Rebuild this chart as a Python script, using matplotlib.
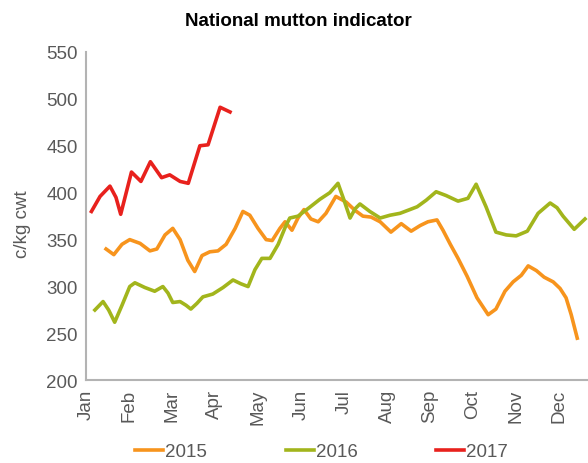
import matplotlib
matplotlib.use("Agg")
import matplotlib.pyplot as plt

plt.rcParams['font.family'] = ['Liberation Sans', 'DejaVu Sans']

months = ["Jan", "Feb", "Mar", "Apr", "May", "Jun", "Jul", "Aug", "Sep", "Oct", "Nov", "Dec"]

# x positions are fractional months (0 = start of Jan), weekly readings
x2015 = [0.47, 0.65, 0.84, 1.02, 1.26, 1.49, 1.65, 1.84, 2.02, 2.19, 2.37, 2.53, 2.70, 2.88,
         3.07, 3.26, 3.47, 3.65, 3.81, 4.00, 4.19, 4.33, 4.51, 4.63, 4.79, 4.93, 5.07, 5.23,
         5.40, 5.58, 5.81, 6.05, 6.26, 6.44, 6.63, 6.84, 7.09, 7.33, 7.56, 7.77, 7.95, 8.16,
         8.30, 8.47, 8.65, 8.86, 9.09, 9.35, 9.53, 9.74, 9.93, 10.12, 10.28, 10.47, 10.65,
         10.86, 11.02, 11.16, 11.28, 11.42]
y2015 = [340, 334, 345, 350, 346, 338, 340, 355, 362, 350, 328, 316, 333, 337,
         338, 345, 362, 380, 376, 362, 350, 349, 362, 369, 360, 373, 382, 372,
         369, 378, 396, 390, 381, 375, 374, 369, 358, 367, 359, 365, 369, 371,
         360, 345, 330, 311, 288, 270, 276, 295, 305, 312, 322, 317, 310,
         305, 298, 288, 270, 245]

x2016 = [0.21, 0.40, 0.53, 0.67, 0.84, 1.02, 1.14, 1.37, 1.60, 1.79, 1.91, 2.02, 2.19, 2.33,
         2.44, 2.58, 2.72, 2.95, 3.19, 3.42, 3.60, 3.77, 3.93, 4.09, 4.28, 4.47, 4.65, 4.74,
         4.93, 5.19, 5.44, 5.67, 5.86, 6.00, 6.14, 6.26, 6.37, 6.60, 6.84, 7.07, 7.30, 7.53,
         7.70, 7.91, 8.14, 8.37, 8.65, 8.88, 9.07, 9.30, 9.53, 9.77, 10.00, 10.26, 10.51,
         10.79, 10.95, 11.09, 11.35, 11.60]
y2016 = [275, 284, 275, 262, 280, 300, 304, 299, 295, 300, 293, 283, 284, 280,
         276, 282, 289, 292, 299, 307, 303, 300, 318, 330, 330, 345, 365, 373,
         375, 384, 393, 400, 410, 392, 373, 383, 388, 380, 373, 376, 378, 382,
         385, 392, 401, 397, 391, 394, 409, 385, 358, 355, 354, 359, 378,
         389, 384, 375, 361, 372]

x2017 = [0.13, 0.33, 0.56, 0.70, 0.81, 1.06, 1.28, 1.50, 1.76, 1.95, 2.19, 2.38, 2.65, 2.84,
         3.12, 3.35]
y2017 = [380, 396, 407, 395, 377, 422, 412, 433, 416, 419, 412, 410, 450, 451, 491, 486]

fig = plt.figure(figsize=(5.88, 4.64), dpi=100)
ax = fig.add_axes([0.146, 0.178, 0.854, 0.708])

ax.plot(x2015, y2015, color="#f7941d", lw=2.6, solid_joinstyle="round", label="2015")
ax.plot(x2016, y2016, color="#a2b51c", lw=2.6, solid_joinstyle="round", label="2016")
ax.plot(x2017, y2017, color="#e8211d", lw=2.6, solid_joinstyle="round", label="2017")

ax.set_xlim(0, 11.67)
ax.set_ylim(200, 550)
ax.set_yticks(range(200, 551, 50))
ax.set_xticks(range(12))
ax.set_xticklabels(months, rotation=90)
ax.tick_params(length=0, labelsize=13.5, labelcolor="#595959", pad=6)

for s in ["top", "right"]:
    ax.spines[s].set_visible(False)
for s in ["left", "bottom"]:
    ax.spines[s].set_color("#b3b3b3")
    ax.spines[s].set_linewidth(1.5)

ax.set_ylabel("c/kg cwt", fontsize=13.5, color="#595959")
ax.yaxis.set_label_coords(-0.11, 0.48)
fig.text(0.507, 0.953, "National mutton indicator", ha="center", va="center",
         fontsize=13.5, fontweight="bold", color="black")

fig.legend(loc="center", bbox_to_anchor=(0.547, 0.024), ncol=3, frameon=False,
           fontsize=13.5, handlelength=1.5, handletextpad=0.1, columnspacing=4.2,
           labelcolor="#595959")

fig.savefig("out.png", dpi=100)
